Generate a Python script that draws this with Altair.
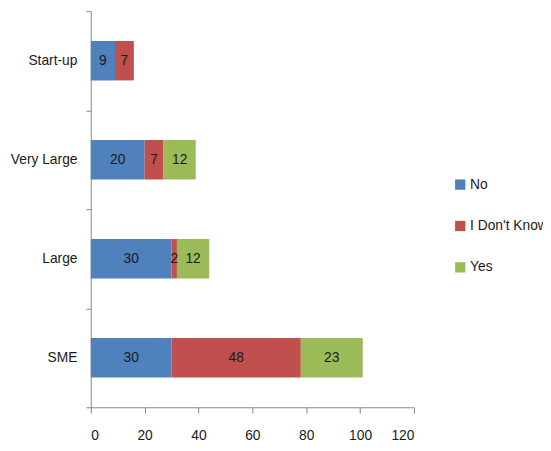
import altair as alt
import pandas as pd

categories = ["Start-up", "Very Large", "Large", "SME"]
series = ["No", "I Don't Know", "Yes"]
no_vals = [9, 20, 30, 30]
idk_vals = [7, 7, 2, 48]
yes_vals = [0, 12, 12, 23]
colors = ["#4F81BD", "#C0504D", "#9BBB59"]

rows = []
for i, c in enumerate(categories):
    for j, (s, vals) in enumerate(zip(series, [no_vals, idk_vals, yes_vals])):
        if vals[i] > 0:
            rows.append({"cat": c, "series": s, "value": vals[i], "ord": j})
df = pd.DataFrame(rows)

FONT = "Liberation Sans, Arial, sans-serif"

base = alt.Chart(df)

bars = base.mark_bar(height=40).encode(
    y=alt.Y("cat:N", sort=categories, title=None,
            scale=alt.Scale(paddingInner=0, paddingOuter=0),
            axis=alt.Axis(tickBand="extent", labelFontSize=14, labelFont=FONT,
                          labelColor="#1a1a1a", labelPadding=9, tickSize=5,
                          domainColor="#868686", tickColor="#868686")),
    x=alt.X("value:Q", stack="zero", title=None,
            scale=alt.Scale(domain=[0, 120], nice=False),
            axis=alt.Axis(values=[0, 20, 40, 60, 80, 100, 120], grid=False,
                          labelFontSize=14, labelFont=FONT, labelColor="#1a1a1a",
                          labelPadding=16, tickSize=6,
                          domainColor="#868686", tickColor="#868686")),
    color=alt.Color("series:N", scale=alt.Scale(domain=series, range=colors),
                    legend=alt.Legend(title=None, orient="none", legendX=368, legendY=169,
                                      symbolType="square", symbolSize=110,
                                      symbolStrokeWidth=0, labelFontSize=14,
                                      labelFont=FONT, labelColor="#1a1a1a",
                                      rowPadding=28, labelOffset=3)),
    order=alt.Order("ord:Q"),
)

labels = base.mark_text(fontSize=14, font=FONT, color="#1a1a1a").encode(
    y=alt.Y("cat:N", sort=categories),
    x=alt.X("mid:Q"),
    text=alt.Text("value:Q"),
).transform_stack(
    stack="value", groupby=["cat"], sort=[alt.SortField("ord")], as_=["v0", "v1"]
).transform_calculate(mid="(datum.v0 + datum.v1) / 2")

chart = (bars + labels).properties(
    width=328, height=402,
    padding={"left": 84, "top": 0, "right": 131, "bottom": 33},
    autosize=alt.AutoSizeParams(type="none"),
    background="white",
).configure_view(stroke=None)

chart.save("out.html", embed_options={"renderer": "svg", "actions": False})
